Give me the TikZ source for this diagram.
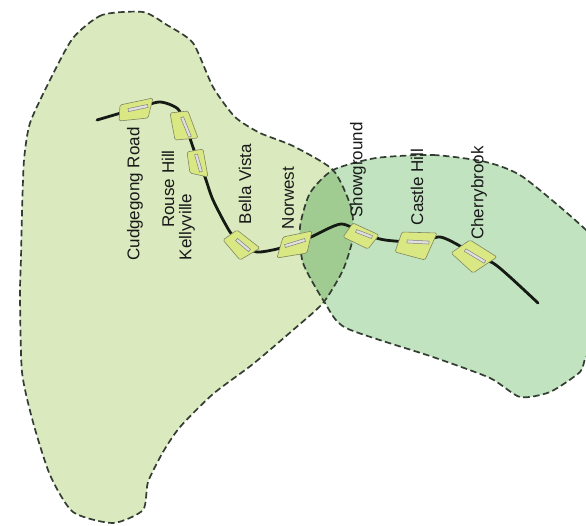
\documentclass[tikz,border=0pt]{standalone}
\usepackage{fontspec}
\setmainfont{Liberation Sans}
\definecolor{cwest}{HTML}{DAE9BE}
\definecolor{ceast}{HTML}{C2E3C0}
\definecolor{cboth}{HTML}{A0CC92}
\definecolor{cstation}{HTML}{D9E883}
\definecolor{cline}{HTML}{333D33}
\definecolor{ctrack}{HTML}{161A14}
\tikzset{
  every picture/.style={x=1pt, y=-1pt},
  zone/.style={draw=cline, line width=1.7pt, dash pattern=on 6.5pt off 3.5pt},
  stationbox/.style={draw=cstation!45!black!80, fill=cstation, line width=0.6pt, rounded corners=1.5pt},
  bar/.style={draw=black!50, fill=white!88!black, line width=0.5pt, minimum height=3pt, inner sep=0pt},
  track/.style={draw=ctrack, line width=2.8pt, line cap=round},
  stop/.style={rotate=90, font=\fontsize{17}{17}\selectfont, text=black!90, inner sep=0pt},
}
\def\westzone{(143,12) (102,15) (73,38) (50,80) (30,123) (24,160) (22,213) (21,258) (20,295) (22,372) (33,422) (50,475) (73,512) (113,523) (143,510) (148,482) (163,452) (180,427) (213,394) (253,364) (293,330) (323,303) (343,270) (353,237) (351,207) (333,170) (293,146) (260,133) (235,117) (213,87) (193,43) (167,25)}
\def\eastzone{(376,158) (433,155) (486,162) (523,177) (586,230) (606,260) (606,330) (586,357) (580,372) (550,392) (520,397) (490,378) (433,357) (346,328) (325,303) (303,263) (300,227) (310,193) (333,170)}
\begin{document}
\begin{tikzpicture}
  \useasboundingbox (0,0) rectangle (586,525);
  \begin{scope}
  \clip (0,0) rectangle (586,525);
  % the two zones and their overlap
  \fill[cwest] plot[smooth cycle, tension=0.4] coordinates {\westzone};
  \fill[ceast] plot[smooth cycle, tension=0.4] coordinates {\eastzone};
  \begin{scope}
  \clip plot[smooth cycle, tension=0.4] coordinates {\westzone};
  \fill[cboth] plot[smooth cycle, tension=0.4] coordinates {\eastzone};
  \end{scope}
  \draw[zone] plot[smooth cycle, tension=0.4] coordinates {\westzone};
  \draw[zone] plot[smooth cycle, tension=0.4] coordinates {\eastzone};
  \end{scope}
  % the line
  \coordinate (start) at (97,120);
  \coordinate (finish) at (538,303);
  \coordinate (cudgegong) at (138,108);
  \coordinate (rouse) at (186,127);
  \coordinate (kelly) at (198.5,163);
  \coordinate (bella) at (243,245);
  \coordinate (norwest) at (295,243);
  \coordinate (show) at (364,234);
  \coordinate (castle) at (418,242);
  \coordinate (cherry) at (475,256);
  \draw[track] plot[smooth, tension=0.45] coordinates {(start) (cudgegong) (160,102) (178,109) (rouse) (kelly) (205,177) (213,200) (230,232) (bella) (257,252) (277,249) (norwest) (311,237) (341,224) (show) (385,240) (castle) (440,237) (460,246) (cherry) (493,263) (510,277) (finish)};
  % stations
  \draw[stationbox] (120,105) -- (153,98) -- (148,118) -- (119,121) -- cycle;
  \draw[stationbox] (170,113) -- (188,111) -- (198,138) -- (175,140) -- cycle;
  \draw[stationbox] (187,152) -- (203,149) -- (208,177) -- (190,173) -- cycle;
  \draw[stationbox] (223,240) -- (237,230) -- (260,248) -- (240,260) -- cycle;
  \draw[stationbox] (283,237) -- (312,231) -- (307,253) -- (277,258) -- cycle;
  \draw[stationbox] (353,223) -- (379,235) -- (368,249) -- (343,237) -- cycle;
  \draw[stationbox] (402,232) -- (437,233) -- (425,260) -- (395,252) -- cycle;
  \draw[stationbox] (470,240) -- (497,257) -- (473,273) -- (451,253) -- cycle;
  \node[bar, rotate=12, minimum width=20pt] (cudgegongbar) at (cudgegong) {};
  \node[bar, rotate=-68, minimum width=21pt] (rousebar) at (rouse) {};
  \node[bar, rotate=-74, minimum width=18pt] (kellybar) at (kelly) {};
  \node[bar, rotate=-40, minimum width=17pt] (bellabar) at (bella) {};
  \node[bar, rotate=17, minimum width=21pt] (norwestbar) at (norwest) {};
  \node[bar, rotate=-21, minimum width=17pt] (showbar) at (show) {};
  \node[bar, rotate=-3, minimum width=22pt] (castlebar) at (castle) {};
  \node[bar, rotate=-31, minimum width=23pt] (cherrybar) at (cherry) {};
  % names
  \node[stop] (cudgegonglabel) at (135,194) {Cudgegong Road};
  \node[stop] (rouselabel) at (168,189) {Rouse Hill};
  \node[stop] (kellylabel) at (187,227) {Kellyville};
  \node[stop] (bellalabel) at (245,184) {Bella Vista};
  \node[stop] (norwestlabel) at (288,198) {Norwest};
  \node[stop] (showlabel) at (358,170) {Showground};
  \node[stop] (castlelabel) at (417,187) {Castle Hill};
  \node[stop] (cherrylabel) at (479,193) {Cherrybrook};
\end{tikzpicture}
\end{document}
